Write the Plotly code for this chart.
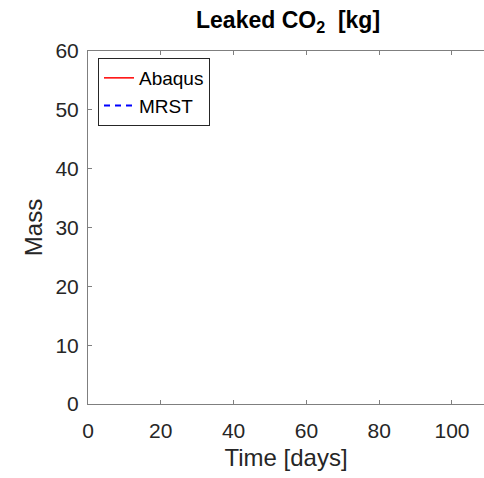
import plotly.graph_objects as go

# Leaked CO2 mass over time; neither simulator reports any leakage in the window
time_days = [None]
mass_abaqus = [None]
mass_mrst = [None]

x_ticks = [0, 20, 40, 60, 80, 100]
y_ticks = [0, 10, 20, 30, 40, 50, 60]

FONT = "Liberation Sans, Arial, sans-serif"
INK = "#262626"
AXIS = "#7f7f7f"

fig = go.Figure()
fig.add_trace(go.Scatter(x=time_days, y=mass_abaqus, mode="lines", name="Abaqus",
                         line=dict(color="#ff0000", width=1.5)))
fig.add_trace(go.Scatter(x=time_days, y=mass_mrst, mode="lines", name="MRST",
                         line=dict(color="#0000ff", width=2, dash="6px,5px")))

W, H = 484, 478
L, R, T, B = 88, 0, 51, 74

fig.update_layout(
    width=W, height=H,
    margin=dict(l=L, r=R, t=T, b=B, pad=0),
    paper_bgcolor="white", plot_bgcolor="white",
    font=dict(family=FONT, color=INK),
    showlegend=True,
    legend=dict(x=(98 - L) / (W - L), y=1 - (58 - T) / (H - T - B),
                xanchor="left", yanchor="top",
                bgcolor="white", bordercolor=INK, borderwidth=1,
                font=dict(family=FONT, size=19, color="black"),
                itemwidth=30, tracegroupgap=0),
    xaxis=dict(range=[0, 108.8], tickvals=x_ticks, ticks="inside", ticklen=4,
               tickcolor=AXIS, showline=True, linecolor=AXIS, linewidth=1,
               mirror="ticks", showgrid=False, zeroline=False,
               ticklabelstandoff=8,
               tickfont=dict(family=FONT, size=21, color=INK),
               title=dict(text="Time [days]", font=dict(family=FONT, size=24, color=INK),
                          standoff=7)),
    yaxis=dict(range=[0, 60], tickvals=y_ticks, ticks="inside", ticklen=4,
               tickcolor=AXIS, showline=True, linecolor=AXIS, linewidth=1,
               mirror=False, showgrid=False, zeroline=False,
               ticklabelstandoff=4,
               tickfont=dict(family=FONT, size=21, color=INK),
               title=dict(text="Mass", font=dict(family=FONT, size=24, color=INK),
                          standoff=6)),
)

fig.add_annotation(text="<b>Leaked CO<sub>2</sub>  [kg]</b>",
                   xref="paper", yref="paper",
                   x=(287.5 - L) / (W - L), y=1 + (T - 5) / (H - T - B),
                   xanchor="center", yanchor="top", showarrow=False,
                   font=dict(family=FONT, size=23, color="black"))

fig.write_html("out.html")
